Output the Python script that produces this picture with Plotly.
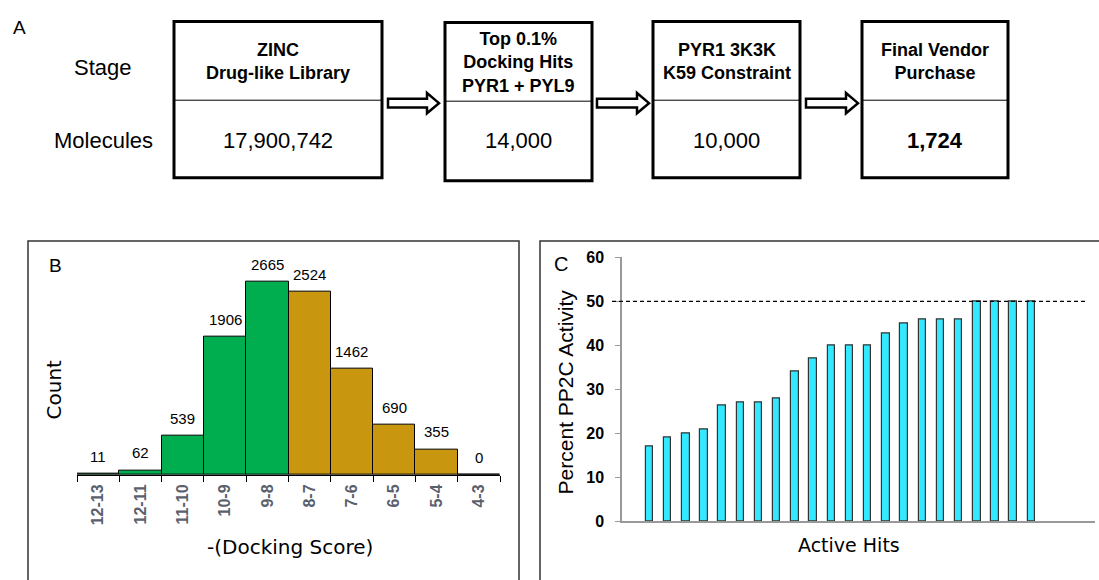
import plotly.graph_objects as go

W, H = 1099, 580

# ---- Panel A: screening funnel ----
stage_names = ["ZINC<br>Drug-like Library",
               "Top 0.1%<br>Docking Hits<br>PYR1 + PYL9",
               "PYR1 3K3K<br>K59 Constraint",
               "Final Vendor<br>Purchase"]
molecule_counts = ["17,900,742", "14,000", "10,000", "<b>1,724</b>"]

# ---- Panel B: docking score histogram ----
score_bins = ["12-13", "12-11", "11-10", "10-9", "9-8", "8-7", "7-6", "6-5", "5-4", "4-3"]
bin_counts = [11, 62, 539, 1906, 2665, 2524, 1462, 690, 355, 0]
bin_colors = ["#00AD4F"] * 5 + ["#C8960F"] * 5

# ---- Panel C: activity of hits ----
hit_activity = [17, 19, 20, 21, 26.3, 27, 27, 28, 34, 37, 40, 40, 40, 42.8,
                45, 46, 46, 46, 50, 50, 50, 50]
THRESHOLD = 50


def px(x):
    return x / W


def py(y):
    return 1 - y / H


shapes = []
annotations = []

# funnel boxes: (left, right, top, bottom, divider)
boxes = [(174, 382, 14, 175, 95),
         (445, 592, 15, 178, 96),
         (653, 800, 14, 175, 95),
         (862, 1008, 14, 175, 95)]
for (l, r, t, b, d) in boxes:
    shapes.append(dict(type="rect", xref="paper", yref="paper",
                       x0=px(l), x1=px(r), y0=py(b), y1=py(t),
                       line=dict(color="black", width=3), fillcolor="rgba(0,0,0,0)"))
    shapes.append(dict(type="line", xref="paper", yref="paper",
                       x0=px(l), x1=px(r), y0=py(d), y1=py(d),
                       line=dict(color="black", width=1)))

for (l, r, t, b, d), name, count in zip(boxes, stage_names, molecule_counts):
    cx = (l + r) / 2
    annotations.append(dict(xref="paper", yref="paper", x=px(cx), y=py((t + d) / 2 + 1),
                            text=f"<b>{name}</b>", showarrow=False,
                            xanchor="center", yanchor="middle",
                            font=dict(family="Liberation Sans, Arial", size=18, color="black")))
    annotations.append(dict(xref="paper", yref="paper", x=px(cx), y=py(137),
                            text=count, showarrow=False,
                            xanchor="center", yanchor="middle",
                            font=dict(family="Liberation Sans, Arial", size=22, color="black")))

# hollow block arrows between boxes
for x0, x1 in [(388, 439), (597, 649), (806, 858)]:
    yc, sh, hh = 98, 4.5, 10.5
    xh = x1 - 12
    pts = [(x0, yc - sh), (xh, yc - sh), (xh, yc - hh), (x1, yc),
           (xh, yc + hh), (xh, yc + sh), (x0, yc + sh)]
    path = "M " + " L ".join(f"{px(a):.5f},{py(b):.5f}" for a, b in pts) + " Z"
    shapes.append(dict(type="path", xref="paper", yref="paper", path=path,
                       line=dict(color="black", width=2.5), fillcolor="white"))

for txt, x, y, sz in [("A", 19, 20, 19), ("Stage", 103, 61, 22), ("Molecules", 103, 137, 22)]:
    annotations.append(dict(xref="paper", yref="paper", x=px(x), y=py(y), text=txt,
                            showarrow=False, xanchor="center", yanchor="middle",
                            font=dict(family="Liberation Sans, Arial", size=sz, color="black")))

# panel frames
shapes.append(dict(type="rect", xref="paper", yref="paper",
                   x0=px(28), x1=px(519), y0=py(600), y1=py(240),
                   line=dict(color="#333333", width=1.5)))
shapes.append(dict(type="rect", xref="paper", yref="paper",
                   x0=px(540), x1=px(1110), y0=py(600), y1=py(240),
                   line=dict(color="#333333", width=1.5)))

fig = go.Figure()

# Panel B bars
fig.add_trace(go.Bar(x=score_bins, y=bin_counts, marker=dict(color=bin_colors,
                     line=dict(color="black", width=1)), width=1.0,
                     xaxis="x", yaxis="y", showlegend=False, hoverinfo="x+y"))
for cat, val in zip(score_bins, bin_counts):
    annotations.append(dict(xref="x", yref="y", x=cat, y=val, text=str(val),
                            showarrow=False, xanchor="center", yanchor="bottom", yshift=7,
                            font=dict(family="Liberation Sans, Arial", size=15, color="black")))

# Panel C bars
fig.add_trace(go.Bar(x=list(range(len(hit_activity))), y=hit_activity,
                     marker=dict(color="#33E8FF", line=dict(color="#333333", width=1.2)),
                     width=0.41, xaxis="x2", yaxis="y2", showlegend=False))
shapes.append(dict(type="line", xref="paper", yref="y2", x0=px(612), x1=px(1086),
                   y0=THRESHOLD, y1=THRESHOLD,
                   line=dict(color="black", width=1.2, dash="4px,3px")))

# axis titles and panel letters
title_font = dict(family="DejaVu Sans", size=20, color="black")
annotations += [
    dict(xref="paper", yref="paper", x=px(55), y=py(265), text="B", showarrow=False,
         xanchor="center", yanchor="middle",
         font=dict(family="Liberation Sans, Arial", size=19, color="black")),
    dict(xref="paper", yref="paper", x=px(54), y=py(393), text="Count", showarrow=False,
         textangle=-90, xanchor="center", yanchor="middle", font=title_font),
    dict(xref="paper", yref="paper", x=px(290), y=py(555), text="-(Docking Score)",
         showarrow=False, xanchor="center", yanchor="middle", font=title_font),
    dict(xref="paper", yref="paper", x=px(561), y=py(264), text="C", showarrow=False,
         xanchor="center", yanchor="middle",
         font=dict(family="Liberation Sans, Arial", size=20, color="black")),
    dict(xref="paper", yref="paper", x=px(565), y=py(396), text="Percent PP2C Activity",
         showarrow=False, textangle=-90, xanchor="center", yanchor="middle",
         font=dict(family="Liberation Sans, Arial", size=21, color="black")),
    dict(xref="paper", yref="paper", x=px(849), y=py(553), text="Active Hits",
         showarrow=False, xanchor="center", yanchor="middle",
         font=dict(family="DejaVu Sans", size=19, color="black")),
]

fig.update_layout(
    width=W, height=H, margin=dict(l=0, r=0, t=0, b=0),
    paper_bgcolor="white", plot_bgcolor="white", bargap=0,
    shapes=shapes, annotations=annotations,
    xaxis=dict(domain=[px(77), px(500)], type="category", categoryorder="array",
               categoryarray=score_bins, tickson="boundaries", ticks="outside",
               ticklen=6, tickcolor="black", tickwidth=1.2, showline=True,
               linecolor="black", linewidth=1.2, tickangle=-90, showgrid=False,
               ticklabelstandoff=2,
               tickfont=dict(family="Liberation Sans, Arial", size=16, color="#5A606C",
                             weight="bold"),
               fixedrange=True, zeroline=False),
    yaxis=dict(domain=[py(481), py(251)], range=[0, 3080], visible=False,
               showgrid=False, zeroline=False),
    xaxis2=dict(domain=[px(622), px(1095)], range=[-1.51, 24.5], showline=True,
                linecolor="#999999", linewidth=1.5, showticklabels=False, ticks="",
                showgrid=False, zeroline=False, anchor="y2"),
    yaxis2=dict(domain=[py(529), py(257)], range=[0, 60], tickvals=[0, 10, 20, 30, 40, 50, 60],
                showline=True, linecolor="#999999", linewidth=1.5, ticks="outside",
                ticklen=5, tickcolor="#999999", showgrid=False, zeroline=False,
                ticklabelstandoff=8, anchor="x2",
                tickfont=dict(family="Liberation Sans, Arial", size=16, color="black",
                              weight="bold")),
)

fig.write_html("out.html")
